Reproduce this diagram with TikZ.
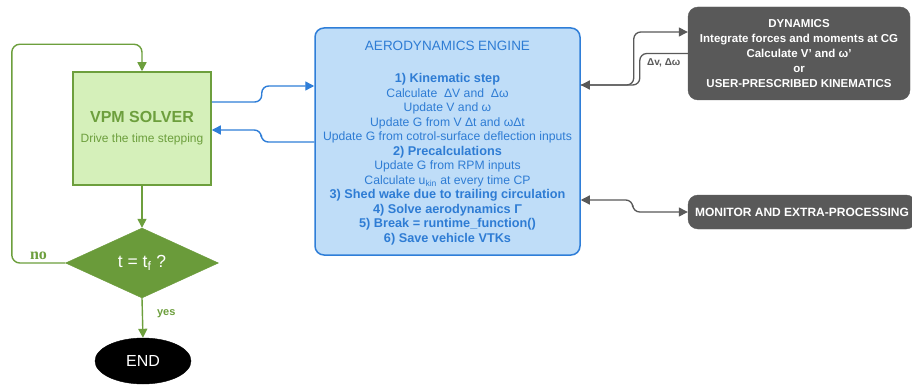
\documentclass[tikz,border=0pt]{standalone}
\usepackage{fontspec}
\setmainfont{Liberation Sans}
\newfontfamily\labelserif{Liberation Serif}
\usetikzlibrary{shapes.geometric,arrows.meta,calc}

\definecolor{vpmfill}{HTML}{D5F0BA}
\definecolor{vpmgreen}{HTML}{6D9F3D}
\definecolor{decgreen}{HTML}{6A9B3A}
\definecolor{aerofill}{HTML}{BFDDF8}
\definecolor{aeroblue}{HTML}{2F7ED8}
\definecolor{aerotext}{HTML}{2E7CD4}
\definecolor{darkbox}{HTML}{595959}

% bold step heading inside the engine box
\newcommand\stephead[1]{{\fontsize{12.7}{14.5}\selectfont\bfseries #1}}

\tikzset{
  tip/.style={-{Triangle[length=9pt,width=9pt]}},
  gline/.style={draw=vpmgreen, line width=1.4pt, tip, rounded corners=8pt},
  bline/.style={draw=aeroblue, line width=1.4pt, tip, rounded corners=7pt},
  kline/.style={draw=darkbox, line width=1.3pt, rounded corners=7pt},
  solverbox/.style={rectangle, draw=vpmgreen, fill=vpmfill, line width=1.5pt,
    minimum width=138pt, minimum height=113pt, inner sep=0pt, align=center,
    text=vpmgreen},
  decision/.style={diamond, draw=decgreen, fill=decgreen, inner sep=0pt,
    minimum width=153pt, minimum height=70pt, aspect=2.19, text=white,
    font=\fontsize{17.5}{17.5}\selectfont},
  terminal/.style={ellipse, fill=black, draw=black, inner sep=0pt,
    minimum width=96pt, minimum height=46pt, text=white,
    font=\fontsize{16}{16}\selectfont},
  enginebox/.style={rectangle, rounded corners=9pt, draw=aeroblue, fill=aerofill,
    line width=1.5pt, minimum width=265pt, minimum height=227pt, inner sep=0pt},
  greybox/.style={rectangle, rounded corners=10pt, draw=darkbox, fill=darkbox,
    inner sep=0pt, text=white, align=center},
  lbl/.style={text=vpmgreen, inner sep=0pt},
}

\begin{document}
\begin{tikzpicture}[x=1pt, y=-1pt]
\clip (0,0) rectangle (912,390);
\fill[white] (0,0) rectangle (912,390);

% solver loop on the left
\node[solverbox] (vpm) at (142,128.5)
  {{\fontsize{16}{14}\selectfont\bfseries VPM SOLVER}\\[8pt]
   {\fontsize{12}{14}\selectfont Drive the time stepping}};
\node[decision] (dec) at (142,263) {t = t\textsubscript{f} ?};
\node[terminal] (endn) at (143,361) {END};

\draw[gline] (vpm.south) -- (dec.north);
\draw[gline] (dec.south) -- node[lbl, pos=0.4, right=14pt,
  font=\fontsize{11}{11}\selectfont\bfseries] {yes} (endn.north);
\draw[gline] (dec.west) -- node[lbl, above=3pt,
  font=\labelserif\fontsize{16}{16}\selectfont\bfseries] {no} ++(-53.5,0)
  |- ($(vpm.north)+(0,-27)$) -- (vpm.north);

% aerodynamics engine
\node[enginebox] (aero) at (447.5,141.5) {};
\node[anchor=north, align=center, text=aerotext, inner sep=0pt,
      font=\fontsize{12.2}{14.5}\selectfont] (aerotxt) at (447.5,41)
  {{\fontsize{13.5}{14.5}\selectfont AERODYNAMICS ENGINE}\\[17.5pt]
   \stephead{1) Kinematic step}\\
   Calculate \ ΔV and \ Δω\\
   Update V and ω\\
   Update G from V Δt and ωΔt\\
   Update G from cotrol-surface deflection inputs\\
   \stephead{2) Precalculations}\\
   Update G from RPM inputs\\
   Calculate u\textsubscript{kin} at every time CP\\
   \stephead{3) Shed wake due to trailing circulation}\\
   \stephead{4) Solve aerodynamics Γ}\\
   \stephead{5) Break = runtime\_function()}\\
   \stephead{6) Save vehicle VTKs}};

\draw[bline] ($(vpm.east)+(0,-26.5)$) -- ++(50,0) |- ($(aero.west)+(0,-55.5)$);
\draw[bline] ($(aero.west)+(0,0.5)$) -- ++(-53,0) |- ($(vpm.east)+(0,1.5)$);

% dynamics and monitoring blocks
\node[greybox, minimum width=222pt, minimum height=93pt,
      font=\fontsize{11.5}{15}\selectfont\bfseries] (dyn) at (799,53.5)
  {DYNAMICS\\
   Integrate forces and moments at CG\\
   Calculate V' and ω'\\
   or\\
   USER-PRESCRIBED KINEMATICS};
\node[greybox, minimum width=228pt, minimum height=34pt,
      font=\fontsize{12}{12}\selectfont\bfseries] (mon) at (802,212)
  {MONITOR AND EXTRA-PROCESSING};

\draw[kline, tip] ($(aero.east)+(0,-56.5)$) -- ++(53,0) |- ($(dyn.west)+(0,-21.5)$);
\draw[kline, tip] (dyn.west) -- node[below=4pt, inner sep=0pt, text=darkbox,
  font=\fontsize{10}{10}\selectfont\bfseries] {Δv, Δω} ++(-48,0)
  |- ($(aero.east)+(0,-56.5)$);
\draw[kline, {Triangle[length=9pt,width=9pt]}-{Triangle[length=9pt,width=9pt]}]
  ($(aero.east)+(0,58.5)$) -- ++(52,0) |- (mon.west);
\end{tikzpicture}
\end{document}
